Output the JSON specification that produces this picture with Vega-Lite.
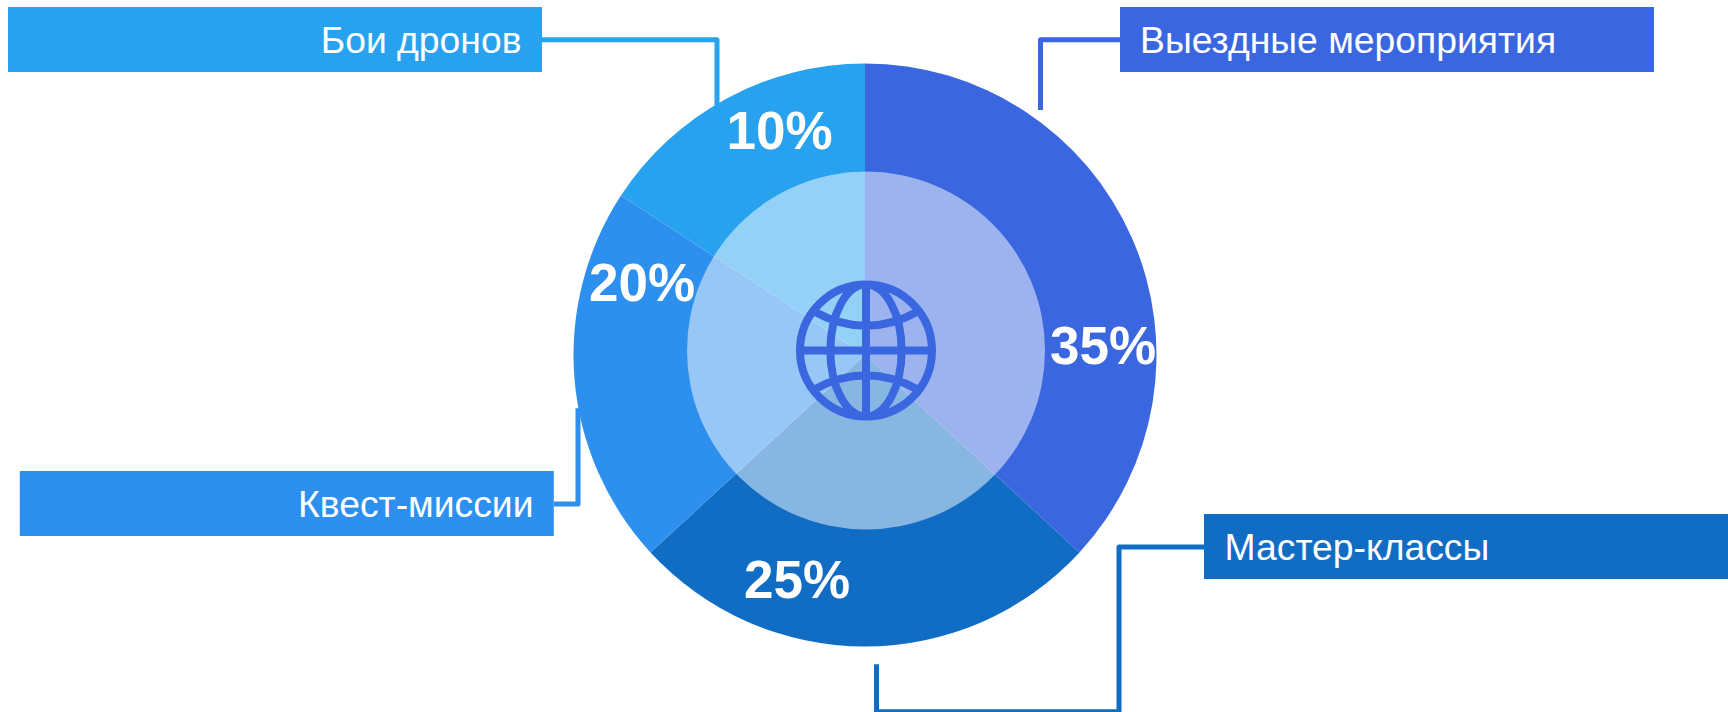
{
  "$schema": "https://vega.github.io/schema/vega-lite/v6.json",
  "width": 1728,
  "height": 712,
  "padding": 0,
  "autosize": "none",
  "background": "white",
  "config": {"view": {"stroke": null}, "axis": {"domain": false}},
  "datasets": {
    "slices": [
      {"category": "Выездные мероприятия", "rank": 1, "value": 35, "label": "35%"},
      {"category": "Мастер-классы", "rank": 2, "value": 25, "label": "25%"},
      {"category": "Квест-миссии", "rank": 3, "value": 20, "label": "20%"},
      {"category": "Бои дронов", "rank": 4, "value": 15, "label": "10%"}
    ],
    "hub": [{"name": "hub"}],
    "leaders": [
      {"category": "Бои дронов", "xNode": 1, "yNode": 1, "seq": 1},
      {"category": "Бои дронов", "xNode": 2, "yNode": 1, "seq": 2},
      {"category": "Бои дронов", "xNode": 2, "yNode": 2, "seq": 3},
      {"category": "Выездные мероприятия", "xNode": 3, "yNode": 1, "seq": 1},
      {"category": "Выездные мероприятия", "xNode": 4, "yNode": 1, "seq": 2},
      {"category": "Выездные мероприятия", "xNode": 4, "yNode": 2, "seq": 3},
      {"category": "Квест-миссии", "xNode": 5, "yNode": 3, "seq": 1},
      {"category": "Квест-миссии", "xNode": 6, "yNode": 3, "seq": 2},
      {"category": "Квест-миссии", "xNode": 6, "yNode": 4, "seq": 3},
      {"category": "Мастер-классы", "xNode": 7, "yNode": 5, "seq": 1},
      {"category": "Мастер-классы", "xNode": 8, "yNode": 5, "seq": 2},
      {"category": "Мастер-классы", "xNode": 8, "yNode": 6, "seq": 3},
      {"category": "Мастер-классы", "xNode": 9, "yNode": 6, "seq": 4},
      {"category": "Мастер-классы", "xNode": 9, "yNode": 7, "seq": 5}
    ]
  },
  "layer": [
    {
      "data": {"name": "slices"},
      "mark": {"type": "arc", "radius": 291.5, "xOffset": 1, "yOffset": -1},
      "encoding": {
        "theta": {"field": "value", "type": "quantitative", "stack": true},
        "order": {"field": "rank", "type": "quantitative"},
        "color": {
          "field": "category", "type": "nominal", "legend": null,
          "scale": {
            "domain": ["Выездные мероприятия", "Мастер-классы", "Квест-миссии", "Бои дронов"],
            "range": ["#3A67E0", "#116DC4", "#2D8FEE", "#28A2EE"]
          }
        }
      }
    },
    {
      "data": {"name": "hub"},
      "mark": {"type": "arc", "radius": 179, "theta": 0, "theta2": 6.2832, "fill": "white", "fillOpacity": 0.5, "xOffset": 2, "yOffset": -5.5},
      "encoding": {}
    },
    {
      "data": {"name": "hub"},
      "mark": {
        "type": "point", "filled": false, "stroke": "#3A67E0", "strokeWidth": 8, "opacity": 1, "size": 17424, "xOffset": 2, "yOffset": -5.5,
        "shape": "M-1,0A1,1,0,1,1,1,0A1,1,0,1,1,-1,0ZM0,-1L0,1M-1,0L1,0M0,-1A0.54,1,0,0,0,0,1A0.54,1,0,0,0,0,-1ZM-0.8,-0.6Q0,-0.152,0.8,-0.6M-0.8,0.6Q0,0.152,0.8,0.6"
      },
      "encoding": {}
    },
    {
      "data": {"name": "slices"},
      "mark": {"type": "text", "font": "Liberation Sans", "fontWeight": "bold", "fontSize": 53, "fill": "white", "align": "center", "baseline": "alphabetic"},
      "encoding": {
        "x": {"field": "rank", "type": "quantitative", "axis": null, "scale": {"domain": [1, 2, 3, 4], "range": [1103, 797, 642, 779.5]}},
        "y": {"field": "rank", "type": "quantitative", "axis": null, "scale": {"domain": [1, 2, 3, 4], "range": [364, 598, 301, 149]}},
        "text": {"field": "label", "type": "nominal"}
      }
    },
    {
      "data": {"name": "leaders"},
      "mark": {"type": "line", "strokeWidth": 5, "strokeJoin": "round", "strokeCap": "butt", "clip": false},
      "encoding": {
        "x": {"field": "xNode", "type": "quantitative", "axis": null, "scale": {"domain": [1, 2, 3, 4, 5, 6, 7, 8, 9], "range": [542, 717, 1120, 1040.5, 554, 578, 1204, 1119, 876.5]}},
        "y": {"field": "yNode", "type": "quantitative", "axis": null, "scale": {"domain": [1, 2, 3, 4, 5, 6, 7], "range": [39.7, 110, 504, 408.3, 547, 711.7, 664.3]}},
        "order": {"field": "seq", "type": "quantitative"},
        "color": {
          "field": "category", "type": "nominal", "legend": null,
          "scale": {
            "domain": ["Выездные мероприятия", "Мастер-классы", "Квест-миссии", "Бои дронов"],
            "range": ["#3A67E0", "#116DC4", "#2D8FEE", "#28A2EE"]
          }
        }
      }
    },
    {
      "data": {"name": "slices"},
      "mark": {"type": "rect", "width": 534, "height": 65},
      "encoding": {
        "x": {"field": "rank", "type": "quantitative", "axis": null, "scale": {"domain": [1, 2, 3, 4], "range": [1387, 1471, 286.8, 275]}},
        "y": {"field": "rank", "type": "quantitative", "axis": null, "scale": {"domain": [1, 2, 3, 4], "range": [39.5, 546.5, 503.5, 39.5]}},
        "color": {
          "field": "category", "type": "nominal", "legend": null,
          "scale": {
            "domain": ["Выездные мероприятия", "Мастер-классы", "Квест-миссии", "Бои дронов"],
            "range": ["#3A67E0", "#116DC4", "#2D8FEE", "#28A2EE"]
          }
        }
      }
    },
    {
      "data": {"name": "slices"},
      "transform": [{"filter": "datum.rank <= 2"}],
      "mark": {"type": "text", "font": "Liberation Sans", "fontSize": 37.3, "fill": "white", "align": "left", "baseline": "alphabetic"},
      "encoding": {
        "x": {"field": "rank", "type": "quantitative", "axis": null, "scale": {"domain": [1, 2], "range": [1140, 1224.5]}},
        "y": {"field": "rank", "type": "quantitative", "axis": null, "scale": {"domain": [1, 2], "range": [52.5, 559.5]}},
        "text": {"field": "category", "type": "nominal"}
      }
    },
    {
      "data": {"name": "slices"},
      "transform": [{"filter": "datum.rank > 2"}],
      "mark": {"type": "text", "font": "Liberation Sans", "fontSize": 37.3, "fill": "white", "align": "right", "baseline": "alphabetic"},
      "encoding": {
        "x": {"field": "rank", "type": "quantitative", "axis": null, "scale": {"domain": [3, 4], "range": [533.5, 521.5]}},
        "y": {"field": "rank", "type": "quantitative", "axis": null, "scale": {"domain": [3, 4], "range": [517, 52.5]}},
        "text": {"field": "category", "type": "nominal"}
      }
    }
  ],
  "resolve": {"scale": {"x": "independent", "y": "independent", "color": "shared"}}
}
